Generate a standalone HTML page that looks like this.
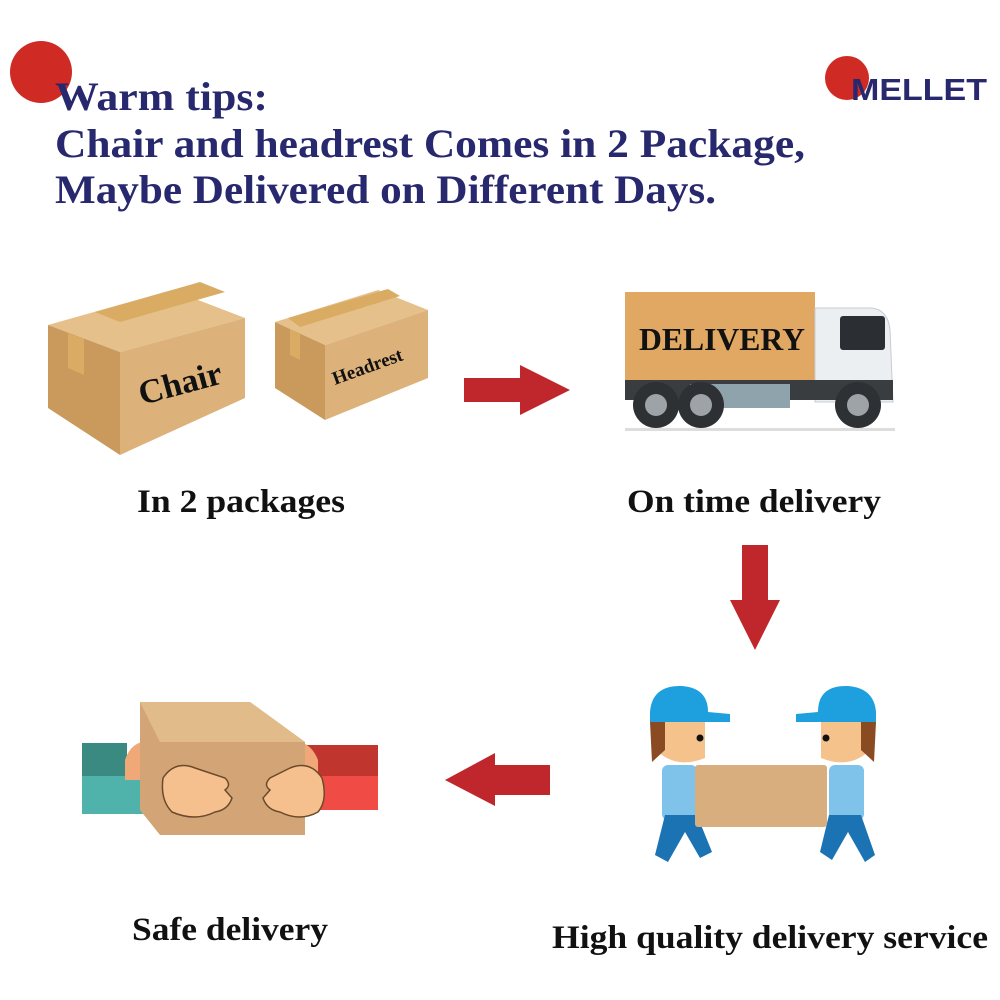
<!DOCTYPE html>
<html><head><meta charset="utf-8"><style>
html,body{margin:0;padding:0;background:#fff;width:1000px;height:1000px;overflow:hidden}
</style></head><body>
<svg width="1000" height="1000" viewBox="0 0 1000 1000" xmlns="http://www.w3.org/2000/svg">
<rect width="1000" height="1000" fill="#fff"/>
<circle cx="41" cy="72" r="31" fill="#d02a24"/>
<g font-family="Liberation Serif, serif" font-weight="bold" fill="#27286d" font-size="40">
<text x="55" y="110" textLength="213" lengthAdjust="spacingAndGlyphs">Warm tips:</text>
<text x="55" y="157" textLength="750" lengthAdjust="spacingAndGlyphs">Chair and headrest Comes in 2 Package,</text>
<text x="55" y="203" textLength="661" lengthAdjust="spacingAndGlyphs">Maybe Delivered on Different Days.</text>
</g>
<circle cx="847" cy="78" r="22" fill="#d02a24"/>
<text x="851" y="100" textLength="136" lengthAdjust="spacingAndGlyphs" font-family="Liberation Sans, sans-serif" font-weight="bold" font-size="31" fill="#27286d">MELLET</text>

<!-- chair box -->
<polygon points="48,325 172,290 245,318 120,352" fill="#e6c08a"/>
<polygon points="95,312 200,282 225,292 120,322" fill="#d9ab63"/>
<polygon points="48,325 120,352 120,455 48,408" fill="#c99a5c"/>
<polygon points="68,333 84,339 84,375 68,368" fill="#d9ab63"/>
<polygon points="120,352 245,318 245,398 120,455" fill="#dcb17a"/>
<text transform="translate(142,405) rotate(-15)" font-family="Liberation Serif, serif" font-weight="bold" font-size="34" fill="#111">Chair</text>
<!-- headrest box -->
<polygon points="275,322 378,290 428,310 325,345" fill="#e6c08a"/>
<polygon points="288,318 388,289 400,296 300,327" fill="#d9ab63"/>
<polygon points="275,322 325,345 325,420 275,388" fill="#c99a5c"/>
<polygon points="290,329 300,334 300,360 290,355" fill="#d9ab63"/>
<polygon points="325,345 428,310 428,378 325,420" fill="#dcb17a"/>
<text transform="translate(335,385) rotate(-20)" font-family="Liberation Serif, serif" font-weight="bold" font-size="19" fill="#111">Headrest</text>

<polygon points="464,378 520,378 520,365 570,390 520,415 520,402 464,402" fill="#c0272d"/>

<!-- truck -->
<rect x="625" y="292" width="190" height="90" fill="#e0a862"/>
<text x="722" y="350" text-anchor="middle" textLength="166" lengthAdjust="spacingAndGlyphs" font-family="Liberation Serif, serif" font-weight="bold" font-size="32" fill="#111">DELIVERY</text>
<path d="M815 308 L872 308 Q888 310 890 330 L893 402 L815 402 Z" fill="#eceff1" stroke="#c5ccd2"/>
<rect x="840" y="316" width="45" height="34" rx="3" fill="#2b2f33"/>
<rect x="625" y="380" width="268" height="20" fill="#3a3d40"/>
<rect x="690" y="384" width="100" height="24" fill="#8fa3ad"/>
<g fill="#2e3134"><circle cx="656" cy="405" r="23"/><circle cx="701" cy="405" r="23"/><circle cx="858" cy="405" r="23"/></g>
<g fill="#9ea3a7"><circle cx="656" cy="405" r="11"/><circle cx="701" cy="405" r="11"/><circle cx="858" cy="405" r="11"/></g>
<rect x="625" y="428" width="270" height="3" fill="#ddd"/>

<g font-family="Liberation Serif, serif" font-weight="bold" font-size="33" fill="#111" lengthAdjust="spacingAndGlyphs">
<text x="137" y="512" textLength="208" lengthAdjust="spacingAndGlyphs">In 2 packages</text>
<text x="627" y="512" textLength="254" lengthAdjust="spacingAndGlyphs">On time delivery</text>
<text x="132" y="940" textLength="196" lengthAdjust="spacingAndGlyphs">Safe delivery</text>
<text x="552" y="948" textLength="436" lengthAdjust="spacingAndGlyphs">High quality delivery service</text>
</g>

<polygon points="742,545 768,545 768,600 780,600 755,650 730,600 742,600" fill="#c0272d"/>
<polygon points="550,765 495,765 495,753 445,780 495,806 495,795 550,795" fill="#c0272d"/>

<!-- hands with box -->
<rect x="82" y="743" width="45" height="35" fill="#3b8a82"/>
<rect x="82" y="776" width="85" height="38" fill="#4fb3ac"/>
<rect x="305" y="745" width="73" height="33" fill="#c0362f"/>
<rect x="300" y="776" width="78" height="34" fill="#f14b45"/>
<path d="M125 760 Q130 745 142 742 L142 780 L125 780 Z" fill="#f0a878"/>
<path d="M318 760 Q312 745 300 742 L300 780 L318 780 Z" fill="#f0a878"/>
<polygon points="140,702 250,702 305,742 305,835 160,835 140,810" fill="#d3a576"/>
<polygon points="140,702 250,702 305,742 160,742" fill="#e2bb8a"/>
<path d="M163 778 Q175 760 195 768 L225 778 Q232 785 225 790 L232 798 Q228 810 215 812 Q195 822 172 812 Q160 800 163 778 Z" fill="#f6c08e" stroke="#6b4a2c" stroke-width="1.5"/>
<path d="M322 778 Q310 760 290 768 L270 778 Q263 785 270 790 L263 798 Q267 810 280 812 Q300 822 318 812 Q328 800 322 778 Z" fill="#f6c08e" stroke="#6b4a2c" stroke-width="1.5"/>

<!-- workers -->
<g>
<path d="M650 712 Q652 685 682 686 Q708 688 708 712 L730 714 L730 722 L650 722 Z" fill="#1ea0de"/>
<path d="M652 722 L705 722 L705 758 Q680 768 662 755 L652 745 Z" fill="#f6c28b"/>
<path d="M650 722 L665 722 L665 750 L652 762 Z" fill="#8b4b22"/>
<circle cx="700" cy="738" r="3.5" fill="#111"/>
<rect x="662" y="765" width="35" height="55" rx="6" fill="#7fc2ea"/>
<path d="M665 815 L697 815 L712 852 L700 858 L685 832 L668 862 L655 855 Z" fill="#1b73b3"/>
<path d="M818 712 Q818 685 848 686 Q874 688 876 712 L876 722 L796 722 L796 714 Z" fill="#1ea0de"/>
<path d="M821 722 L874 722 L874 745 L864 755 Q846 768 821 758 Z" fill="#f6c28b"/>
<path d="M861 722 L876 722 L874 762 L861 750 Z" fill="#8b4b22"/>
<circle cx="826" cy="738" r="3.5" fill="#111"/>
<rect x="829" y="765" width="35" height="55" rx="6" fill="#7fc2ea"/>
<path d="M829 815 L861 815 L875 855 L865 862 L848 832 L832 860 L820 852 Z" fill="#1b73b3"/>
<rect x="695" y="765" width="132" height="62" rx="3" fill="#d8ae7e"/>
</g>
</svg>
</body></html>
